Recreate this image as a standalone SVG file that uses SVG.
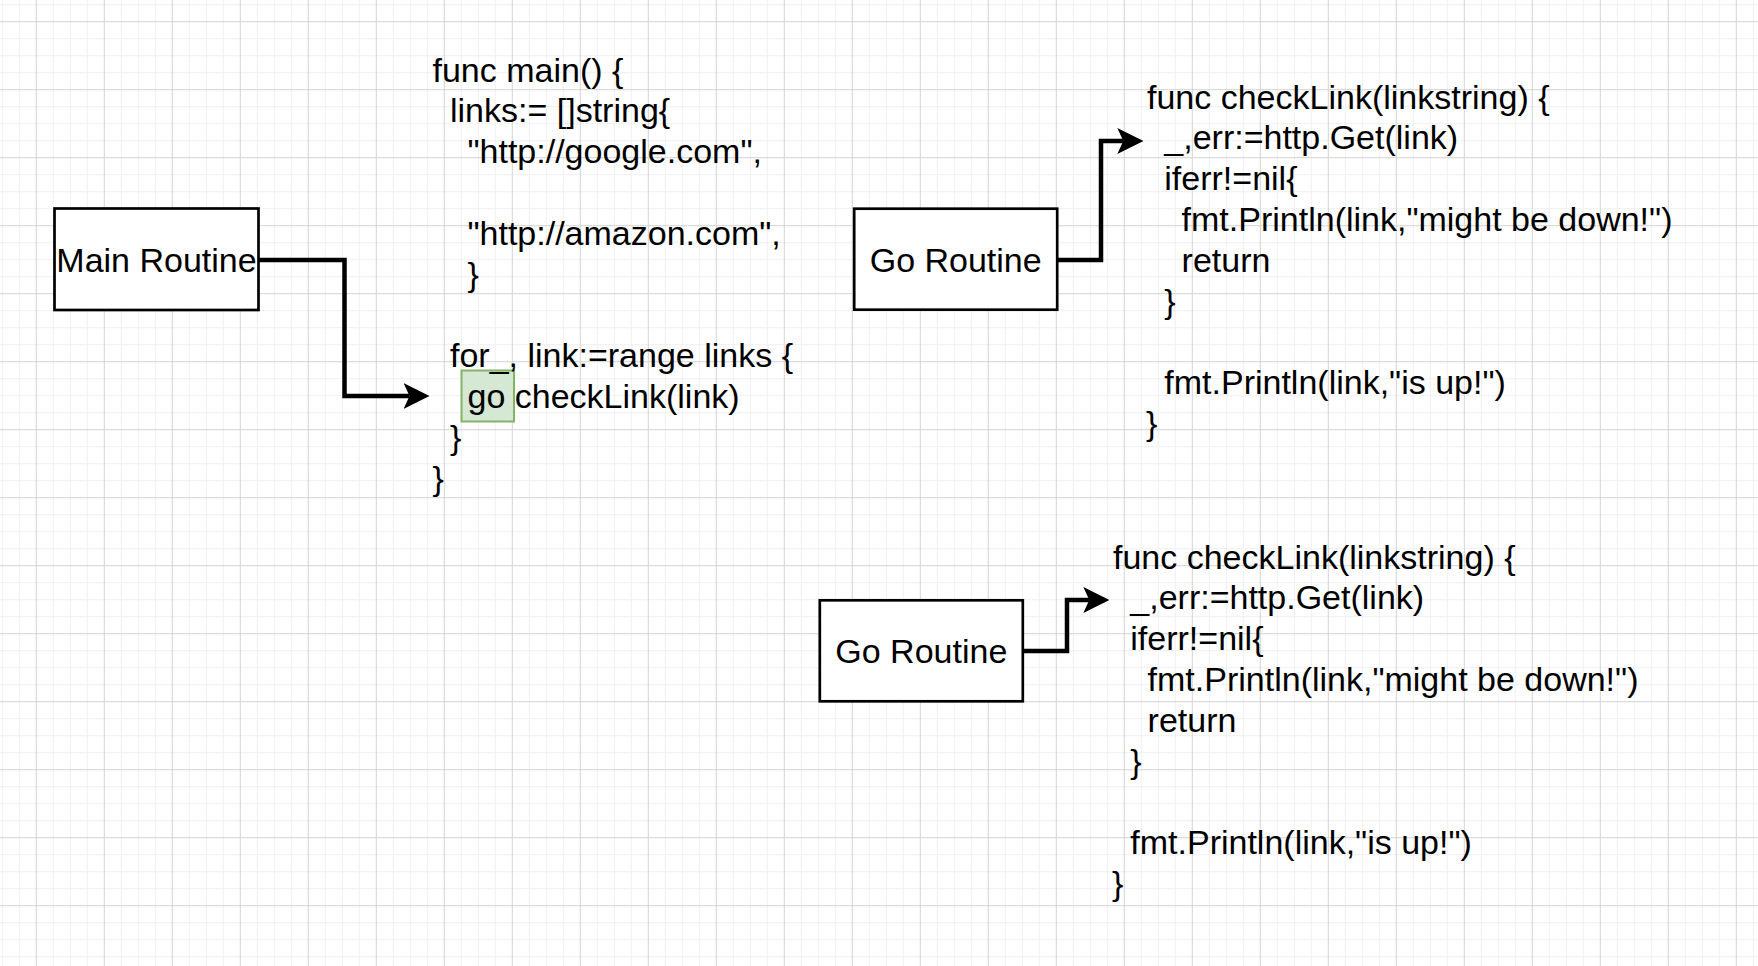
<svg xmlns="http://www.w3.org/2000/svg" width="1758" height="966" viewBox="0 0 1758 966">
<style>
.box{fill:#ffffff;stroke:#000000;stroke-width:2.7}
.lbl{font-family:"Liberation Sans",Arial,Helvetica,sans-serif;font-size:34px;fill:#000000;text-anchor:middle}
.code{font-family:"Liberation Sans",Arial,Helvetica,sans-serif;font-size:34px;fill:#000000}
.edge{fill:none;stroke:#000000;stroke-width:4.5;stroke-linejoin:miter}
.hl{fill:#d5e8d4;stroke:#82b366;stroke-width:2}
</style>
<defs>
<pattern id="grid" patternUnits="userSpaceOnUse" x="35.8" y="21.2" width="68" height="68">
<path d="M17.5 0V68M34.5 0V68M51.5 0V68M0 17.5H68M0 34.5H68M0 51.5H68" stroke="#f0f0f0" stroke-width="1" fill="none"/>
<path d="M0.5 0V68M0 0.5H68" stroke="#d3d3d3" stroke-width="1" fill="none"/>
</pattern>
<marker id="arrow" markerUnits="userSpaceOnUse" markerWidth="26" markerHeight="26" refX="6" refY="13" orient="auto" viewBox="0 0 26 26">
<path d="M0 0L26 13L0 26L6 13Z" fill="#000000"/>
</marker>
</defs>
<rect width="1758" height="966" fill="#ffffff"/>
<rect width="1758" height="966" fill="url(#grid)"/>

<g id="connectors">
<path class="edge" d="M258.5 260H344.5V396H409.5" marker-end="url(#arrow)"/>
<path class="edge" d="M1057 260H1101V141H1123.3" marker-end="url(#arrow)"/>
<path class="edge" d="M1023 651H1067V600H1089.3" marker-end="url(#arrow)"/>
</g>

<g id="main-routine">
<rect class="box" x="54.5" y="208.5" width="204" height="101.5"/>
<text class="lbl" x="156.5" y="271.7">Main Routine</text>
</g>

<g id="main-code">
<rect class="hl" x="461.5" y="370.5" width="52.5" height="51"/>
<text class="code" x="432.5" y="81.5">func main() {</text>
<text class="code" x="450" y="122.3">links:= []string{</text>
<text class="code" x="467.5" y="163.1">"http://google.com",</text>
<text class="code" x="467.5" y="244.7">"http://amazon.com",</text>
<text class="code" x="467.5" y="285.5">}</text>
<text class="code" x="450" y="367.1">for_, link:=range links {</text>
<text class="code" x="467.5" y="407.9">go checkLink(link)</text>
<text class="code" x="450" y="448.7">}</text>
<text class="code" x="432.5" y="489.5">}</text>
</g>

<g id="go-routine-1">
<rect class="box" x="854.2" y="208.7" width="203" height="101"/>
<text class="lbl" x="955.7" y="271.7">Go Routine</text>
</g>

<g id="check-link-1">
<text class="code" x="1147" y="108.5">func checkLink(linkstring) {</text>
<text class="code" x="1164.3" y="149.3">_,err:=http.Get(link)</text>
<text class="code" x="1164.3" y="190.1">iferr!=nil{</text>
<text class="code" x="1181.6" y="230.9">fmt.Println(link,"might be down!")</text>
<text class="code" x="1181.6" y="271.7">return</text>
<text class="code" x="1164.3" y="312.5">}</text>
<text class="code" x="1164.3" y="394.1">fmt.Println(link,"is up!")</text>
<text class="code" x="1146" y="434.9">}</text>
</g>

<g id="go-routine-2">
<rect class="box" x="819.8" y="600.3" width="203" height="101"/>
<text class="lbl" x="921.3" y="662.7">Go Routine</text>
</g>

<g id="check-link-2">
<text class="code" x="1113" y="568.5">func checkLink(linkstring) {</text>
<text class="code" x="1130.3" y="609.3">_,err:=http.Get(link)</text>
<text class="code" x="1130.3" y="650.1">iferr!=nil{</text>
<text class="code" x="1147.6" y="690.9">fmt.Println(link,"might be down!")</text>
<text class="code" x="1147.6" y="731.7">return</text>
<text class="code" x="1130.3" y="772.5">}</text>
<text class="code" x="1130.3" y="854.1">fmt.Println(link,"is up!")</text>
<text class="code" x="1112" y="894.9">}</text>
</g>
</svg>
